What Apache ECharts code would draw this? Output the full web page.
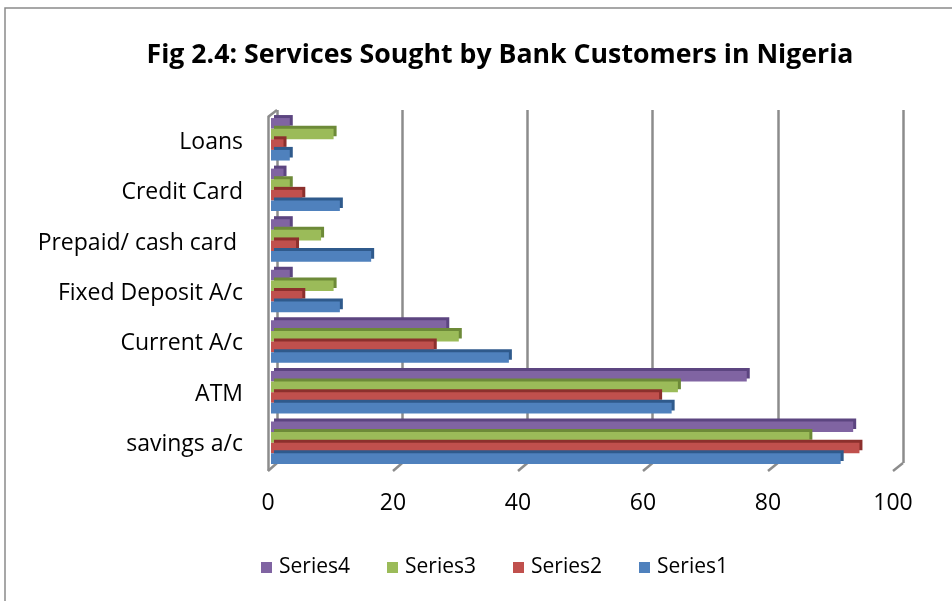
<!DOCTYPE html>
<html><head><meta charset="utf-8">
<script src="https://cdn.jsdelivr.net/npm/echarts@6/dist/echarts.min.js"></script>
<style>html,body{margin:0;padding:0;background:#fff}#c{width:952px;height:601px}</style>
</head><body><div id="c"></div>
<script>
const categories = ["savings a/c", "ATM", "Current A/c", "Fixed Deposit A/c", "Prepaid/ cash card ", "Credit Card", "Loans"];
const series1 = [91, 64, 38, 11, 16, 11, 3];
const series2 = [94, 62, 26, 5, 4, 5, 2];
const series3 = [86, 65, 30, 10, 8, 3, 10];
const series4 = [93, 76, 28, 3, 3, 2, 3];
const xTicks = [0, 20, 40, 60, 80, 100];

const FONT = "Open Sans";
const WALL = '#8c8c8c';
const chart = echarts.init(document.getElementById('c'));
function ser(name, data, color, dark) {
  return {
    name, type: 'bar', data, xAxisIndex: 0, yAxisIndex: 0, z: 3,
    barGap: '0%', barCategoryGap: '16%',
    itemStyle: { color, shadowColor: dark, shadowOffsetX: 3, shadowOffsetY: -3, shadowBlur: 0 }
  };
}
const xMin = xTicks[0], xMax = xTicks[xTicks.length - 1];
// grids: 0 = bars (mid depth), 1 = back wall (gridlines), 2 = front plane (labels)
const gBars = { left: 271, right: 55, top: 114, bottom: 133 };
const gBack = { left: 277, right: 49, top: 110, bottom: 138 };
const gFront = { left: 268, right: 59, top: 117, bottom: 131 };
chart.setOption({
  animation: false,
  backgroundColor: '#fff',
  legend: { top: 552, left: 256, itemWidth: 11, itemHeight: 11, itemGap: 37, icon: 'rect',
    data: ['Series4', 'Series3', 'Series2', 'Series1'],
    textStyle: { fontFamily: FONT, fontSize: 21, color: '#000', padding: [0, 0, 0, 2] } },
  grid: [gBars, gBack, gFront],
  xAxis: [
    { type: 'value', gridIndex: 0, min: xMin, max: xMax, interval: 20, show: false },
    { type: 'value', gridIndex: 1, min: xMin, max: xMax, interval: 20,
      axisLine: { show: false }, axisTick: { show: false }, axisLabel: { show: false },
      splitLine: { show: true, lineStyle: { color: WALL, width: 2.5 } } },
    { type: 'value', gridIndex: 2, min: xMin, max: xMax, interval: 20,
      axisLine: { show: false }, axisTick: { show: false }, splitLine: { show: false },
      axisLabel: { margin: 22, fontFamily: FONT, fontSize: 23, color: '#000' } }
  ],
  yAxis: [
    { type: 'category', gridIndex: 0, data: categories, show: false },
    { type: 'category', gridIndex: 1, data: categories, show: false },
    { type: 'category', gridIndex: 2, data: categories,
      axisLine: { show: true, lineStyle: { color: WALL, width: 2.5 } }, axisTick: { show: false },
      axisLabel: { margin: 25, fontFamily: FONT, fontSize: 23, color: '#000' } }
  ],
  series: [
    ser('Series4', series4, '#8064A2', '#5c4580'),
    ser('Series3', series3, '#9BBB59', '#6d8a38'),
    ser('Series2', series2, '#C0504D', '#8c302d'),
    ser('Series1', series1, '#4F81BD', '#2f5a8c')
  ]
});
// 3D frame decorations placed through the axes' own scales
const H = 601;
const frontBottom = H - gFront.bottom + 1, backBottom = H - gBack.bottom;
const graphics = [
  { type: 'rect', shape: { x: 5, y: 8, width: 960, height: 600 }, style: { fill: 'none', stroke: '#8a8a8a', lineWidth: 1.5 }, silent: true },
  { type: 'text', x: 500, y: 55, style: { text: 'Fig 2.4: Services Sought by Bank Customers in Nigeria', fontFamily: FONT, fontWeight: 'bold', fontSize: 26.7, fill: '#000', align: 'center', verticalAlign: 'middle' } }
];
xTicks.forEach(t => {
  const xf = chart.convertToPixel({ xAxisIndex: 2 }, t);
  const xb = chart.convertToPixel({ xAxisIndex: 1 }, t);
  graphics.push({ type: 'line', shape: { x1: xf, y1: frontBottom, x2: xb, y2: backBottom }, style: { stroke: WALL, lineWidth: 2.5 }, z: 1 });
});
{
  const xf = chart.convertToPixel({ xAxisIndex: 2 }, xMin);
  const xb = chart.convertToPixel({ xAxisIndex: 1 }, xMin);
  graphics.push({ type: 'line', shape: { x1: xf, y1: gFront.top, x2: xb, y2: gBack.top }, style: { stroke: WALL, lineWidth: 2.5 }, z: 1 });
}
chart.setOption({ graphic: graphics });
</script></body></html>
